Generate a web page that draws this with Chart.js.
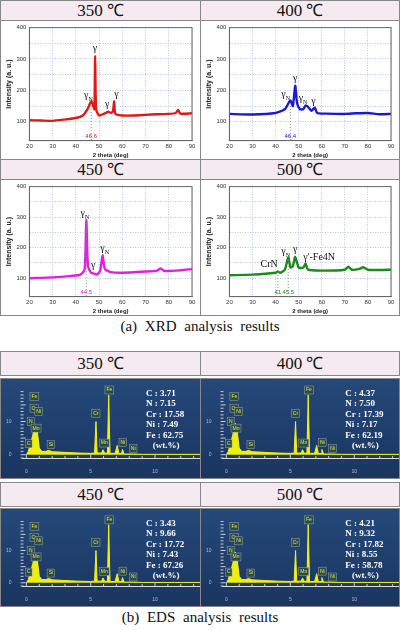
<!DOCTYPE html>
<html><head><meta charset="utf-8">
<script src="https://cdn.jsdelivr.net/npm/chart.js@4"></script>
<style>
body{margin:0;width:400px;height:630px;background:#fff;position:relative;overflow:hidden;font-family:"Liberation Serif",serif}
.hd{position:absolute;background:#f4eaf0;border:1px solid #888;box-sizing:border-box;text-align:center;font-size:17px;line-height:19px;color:#111}
.pn{position:absolute;box-sizing:border-box;border:1px solid #888}
.cap{position:absolute;left:0;width:400px;text-align:center;font-size:15px;word-spacing:4px;color:#111}
.eds{background:linear-gradient(#25497a,#1a3560)}
</style></head><body>
<div class="hd" style="left:0;top:0;width:201px;height:21px">350 ℃</div>
<div class="hd" style="left:200px;top:0;width:200px;height:21px">400 ℃</div>
<div class="pn" style="left:0;top:20px;width:201px;height:140px"><canvas id="x1"></canvas></div>
<div class="pn" style="left:200px;top:20px;width:200px;height:140px"><canvas id="x2"></canvas></div>
<div class="hd" style="left:0;top:159px;width:201px;height:21px">450 ℃</div>
<div class="hd" style="left:200px;top:159px;width:200px;height:21px">500 ℃</div>
<div class="pn" style="left:0;top:179px;width:201px;height:137px"><canvas id="x3"></canvas></div>
<div class="pn" style="left:200px;top:179px;width:200px;height:137px"><canvas id="x4"></canvas></div>
<div class="cap" style="top:318px">(a) XRD analysis results</div>

<div class="hd" style="left:0;top:351px;width:201px;height:25px;line-height:23px">350 ℃</div>
<div class="hd" style="left:200px;top:351px;width:200px;height:25px;line-height:23px">400 ℃</div>
<div class="pn eds" style="left:0;top:378px;width:201px;height:101px"><canvas id="e1"></canvas></div>
<div class="pn eds" style="left:200px;top:378px;width:200px;height:101px"><canvas id="e2"></canvas></div>
<div class="hd" style="left:0;top:482px;width:201px;height:25px;line-height:23px">450 ℃</div>
<div class="hd" style="left:200px;top:482px;width:200px;height:25px;line-height:23px">500 ℃</div>
<div class="pn eds" style="left:0;top:508px;width:201px;height:99px"><canvas id="e3"></canvas></div>
<div class="pn eds" style="left:200px;top:508px;width:200px;height:99px"><canvas id="e4"></canvas></div>
<div class="cap" style="top:609px">(b) EDS analysis results</div>
<script>
// XRD data (2 theta, intensity)
const x350 = [20,25,30,35,40,43,45,46.6,47.5,48,48.3,48.7,50,52,54,55,56,56.5,57,60,65,70,75,80,83,84,85,90];
const y350 = [105,104,103,107,112,120,140,165,150,140,310,140,120,125,132,128,135,165,125,120,120,122,124,125,128,138,126,127];
const x400 = [20,30,40,44,46.4,47.5,48.5,49.3,50.5,52,53,54,55.5,57,58,62,70,75,80,85,90];
const y400 = [125,123,128,140,168,150,215,160,140,140,152,148,135,145,128,126,125,127,128,124,125];
const x450 = [20,30,38,42,43.8,44.5,45.2,46.5,48,49,50.5,51.5,52.5,55,60,70,75,76.5,78,85,90];
const y450 = [100,103,108,112,130,290,140,118,115,112,125,175,130,120,118,122,125,132,124,126,130];
const x500 = [20,30,40,41,42,44,45.5,46.5,47.5,48.5,50,52,53,54,60,70,71.5,73,76,78,80,85,90];
const y500 = [110,112,118,122,118,128,168,135,140,170,135,135,148,128,125,128,138,128,130,136,128,127,128];
// EDS data (keV, counts)
const eKeV = [0,0.15,0.28,0.4,0.5,0.6,0.7,0.85,1.0,1.2,1.5,1.74,2,3,4,5,5.3,5.41,5.5,5.85,5.95,6.1,6.3,6.4,6.5,6.9,7.06,7.2,7.4,7.47,7.6,8.26,9,10,11.5,13.5];
const e350 = [0,1,3,4.5,6,8,9,7,2,1,1,1.3,0.9,0.7,0.5,0.4,0.5,10,0.5,0.5,1.5,0.4,0.5,18,0.4,0.4,2.8,0.3,0.4,1.6,0.2,0.2,0.1,0.1,0.1,0.1];
const e400 = [0,1,3,4.5,6,8,9.5,7,2,1,1,1.3,0.9,0.7,0.5,0.4,0.5,10,0.5,0.5,1.5,0.4,0.5,18,0.4,0.4,2.8,0.3,0.4,1.6,0.2,0.2,0.1,0.1,0.1,0.1];
const e450 = [0,1,3,4.5,6,8,9,7,2,1,1,1.3,0.9,0.7,0.5,0.4,0.5,10,0.5,0.5,1.5,0.4,0.5,18,0.4,0.4,2.8,0.3,0.4,1.6,0.2,0.2,0.1,0.1,0.1,0.1];
const e500 = [0,1,3,4.5,6,8,9.5,7,2,1,1,1.3,0.9,0.7,0.5,0.4,0.5,10,0.5,0.5,1.5,0.4,0.5,18,0.4,0.4,2.8,0.3,0.4,1.6,0.2,0.2,0.1,0.1,0.1,0.1];
const comp350 = ["C : 3.71","N : 7.15","Cr : 17.58","Ni : 7.49","Fe : 62.75","   (wt.%)"];
const comp400 = ["C : 4.37","N : 7.50","Cr : 17.39","Ni : 7.17","Fe : 62.19","   (wt.%)"];
const comp450 = ["C : 3.43","N : 9.66","Cr : 17.72","Ni : 7.43","Fe : 67.26","   (wt.%)"];
const comp500 = ["C : 4.21","N : 9.32","Cr : 17.82","Ni : 8.55","Fe : 58.78","   (wt.%)"];
const edsTags = [[0.18,3.3,"C"],[0.35,10,"N"],[0.6,14,"Cr"],[0.62,17.5,"Fe"],[0.95,13,"Ni"],[0.75,8,"Mn"],[1.9,3,"Si"],[5.4,12.5,"Cr"],[6.45,19.5,"Fe"],[6.05,3.5,"Mn"],[7.5,3.6,"Ni"],[8.3,1.8,"Ni"]];

const xrdPlug = {id:'xrd',afterDatasetsDraw(c){
  const o=c.options.plugins.xrd, ctx=c.ctx, xs=c.scales.x, ys=c.scales.y, a=c.chartArea;
  ctx.save();
  ctx.strokeStyle='#666';ctx.lineWidth=1;ctx.strokeRect(a.left,a.top,a.width,a.height);
  (o.marks||[]).forEach(m=>{
    const px=xs.getPixelForValue(m[0]);
    ctx.setLineDash([1,2]);ctx.strokeStyle='#888';ctx.lineWidth=1;
    ctx.beginPath();ctx.moveTo(px,ys.getPixelForValue(m[1]));ctx.lineTo(px,ys.bottom);ctx.stroke();
    ctx.setLineDash([]);
    ctx.fillStyle=o.color;ctx.font='6px "Liberation Sans"';ctx.textAlign='center';ctx.textBaseline='bottom';
    ctx.fillText(m[2],px,ys.bottom-1);
  });
  (o.labels||[]).forEach(l=>{
    const px=xs.getPixelForValue(l[0]),py=ys.getPixelForValue(l[1]);
    ctx.fillStyle='#111';ctx.font='10px "Liberation Serif"';ctx.textAlign='left';ctx.textBaseline='bottom';
    ctx.fillText(l[2],px,py);
    const w=ctx.measureText(l[2]).width;
    if(l[3]){ctx.font='6px "Liberation Serif"';ctx.fillText(l[3],px+w,py+2);}
  });
  ctx.restore();
}};
const edsPlug = {id:'eds',afterDatasetsDraw(c){
  const o=c.options.plugins.eds, ctx=c.ctx, xs=c.scales.x, ys=c.scales.y;
  ctx.save();
  ctx.strokeStyle='#ccd';ctx.lineWidth=1;
  for(let v=-1;v<=19;v+=1){const py=ys.getPixelForValue(v);ctx.beginPath();ctx.moveTo(xs.left-2,py);ctx.lineTo(xs.left+(v%5===0?3:1),py);ctx.stroke();}
  for(let v=0;v<=13;v+=1){const px=xs.getPixelForValue(v);ctx.beginPath();ctx.moveTo(px,ys.bottom);ctx.lineTo(px,ys.bottom-(v%5===0?4:2));ctx.stroke();}
  edsTags.forEach(t=>{
    const px=xs.getPixelForValue(t[0]),py=ys.getPixelForValue(t[1]);
    ctx.font='5px "Liberation Sans"';const w=ctx.measureText(t[2]).width+3;
    ctx.fillStyle='#2b4a4a';ctx.fillRect(px-w/2,py-4,w,8);
    ctx.strokeStyle='#9aa';ctx.lineWidth=0.5;ctx.strokeRect(px-w/2,py-4,w,8);
    ctx.fillStyle='#e8e84a';ctx.textAlign='center';ctx.textBaseline='middle';ctx.fillText(t[2],px,py);
  });
  ctx.fillStyle='#fff';ctx.font='bold 9px "Liberation Serif"';ctx.textAlign='left';ctx.textBaseline='top';
  o.comp.forEach((s,i)=>ctx.fillText(s,xs.getPixelForValue(9.3),c.chartArea.top+4+i*10.5));
  ctx.restore();
}};

function xrd(id,xv,yv,color,labels,marks){
  new Chart(document.getElementById(id),{type:'line',
    data:{datasets:[{data:xv.map((x,i)=>({x,y:yv[i]})),borderColor:color,borderWidth:2.4,pointRadius:0,tension:0.2}]},
    options:{responsive:true,maintainAspectRatio:false,animation:false,
      layout:{padding:{left:4,right:8,top:6,bottom:0}},
      plugins:{legend:{display:false},tooltip:{enabled:false},xrd:{labels,marks,color}},
      scales:{
        x:{type:'linear',min:20,max:90,border:{color:'#666',dash:[1,1.5]},
          ticks:{stepSize:10,font:{size:6,family:'Liberation Sans'},color:'#333',maxRotation:0,padding:2},
          grid:{color:'#a8b8e0',tickLength:0,lineWidth:0.8},
          title:{display:true,text:'2 theta (deg)',font:{size:6,weight:'bold',family:'Liberation Sans'},padding:0,color:'#222'}},
        y:{min:40,max:400,border:{color:'#666',dash:[1,1.5]},
          afterBuildTicks:a=>{a.ticks=[100,150,200,250,300,350,400].map(v=>({value:v}));},
          ticks:{font:{size:6,family:'Liberation Sans'},color:'#333',callback:v=>v%100===0?v:''},
          grid:{color:'#a8b8e0',tickLength:0,lineWidth:0.8},
          title:{display:true,text:'Intensity (a. u.)',font:{size:7,weight:'bold',family:'Liberation Sans'},padding:0,color:'#222'}}}}
    ,plugins:[xrdPlug]});
}
xrd('x1',x350,y350,'#e01818',[[43.5,168,'γ','N'],[47.3,318,'γ'],[52.5,138,'γ'],[56.5,170,'γ']],[[46.6,150,'46.6']]);
xrd('x2',x400,y400,'#1a1ad0',[[42.5,172,'γ','N'],[47.6,222,'γ'],[50,158,'γ','N'],[55.5,150,'γ']],[[46.4,160,'46.4']]);
xrd('x3',x450,y450,'#e020e0',[[42,295,'γ','N'],[46.5,125,'γ'],[50.5,180,'γ','N']],[[44.5,280,'44.5']]);
xrd('x4',x500,y500,'#1a8a1a',[[33.5,130,'CrN'],[42.5,172,'γ','N'],[47.5,178,'γ'],[52,152,"γ'-Fe4N"]],[[41,120,'41'],[45.5,160,'45.5']]);

function eds(id,yv,comp){
  new Chart(document.getElementById(id),{type:'line',
    data:{datasets:[{data:eKeV.map((x,i)=>({x,y:yv[i]})),borderColor:'#f2f020',backgroundColor:'#eeee10',fill:'origin',borderWidth:1,pointRadius:0,tension:0}]},
    options:{responsive:true,maintainAspectRatio:false,animation:false,
      layout:{padding:{left:2,right:0,top:6,bottom:0}},
      plugins:{legend:{display:false},tooltip:{enabled:false},eds:{comp}},
      scales:{
        x:{type:'linear',min:-0.3,max:13.5,border:{color:'#ddd'},
          afterBuildTicks:a=>{a.ticks=[0,5,10].map(v=>({value:v}));},
          ticks:{font:{size:5,family:'Liberation Sans'},color:'#bbc',maxRotation:0},
          grid:{display:false}},
        y:{min:-1,max:21,border:{display:false},
          afterBuildTicks:a=>{a.ticks=[0,10].map(v=>({value:v}));},
          ticks:{font:{size:5,family:'Liberation Sans'},color:'#bbc'},
          grid:{display:false}}}}
    ,plugins:[edsPlug]});
}
eds('e1',e350,comp350);eds('e2',e400,comp400);eds('e3',e450,comp450);eds('e4',e500,comp500);
</script></body></html>
